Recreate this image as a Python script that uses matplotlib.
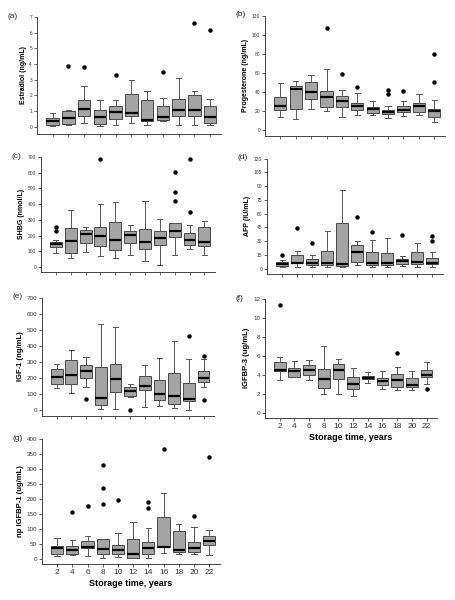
import matplotlib
matplotlib.use("Agg")
import matplotlib.pyplot as plt

plt.rcParams['font.family'] = ['Liberation Sans', 'DejaVu Sans']

years = [2, 4, 6, 8, 10, 12, 14, 16, 18, 20, 22]

# (a) Estradiol
estr_lo = [0.05, 0.1, 0.25, 0.05, 0.1, 0.25, 0.1, 0.4, 0.1, 0.1, 0.1]
estr_q1 = [0.15, 0.2, 0.7, 0.2, 0.5, 0.7, 0.35, 0.45, 0.7, 0.7, 0.25]
estr_med = [0.35, 0.55, 1.15, 0.6, 0.95, 0.9, 0.45, 0.65, 1.05, 1.1, 0.6]
estr_q3 = [0.55, 1.0, 1.7, 1.05, 1.3, 2.1, 1.7, 1.3, 1.75, 2.0, 1.3]
estr_hi = [0.9, 1.1, 2.6, 1.7, 1.7, 3.0, 2.3, 1.85, 3.1, 2.3, 1.75]
estr_out = [[], [3.9], [3.8], [], [3.3], [], [], [3.5], [], [6.6], [6.2]]

# (b) Progesterone
prog_lo = [14, 11.5, 22, 20, 14, 16, 15.7, 12.6, 15, 16.4, 8.7]
prog_q1 = [21, 22.7, 32.5, 25, 24.5, 21, 18, 16.8, 19, 19, 14]
prog_med = [25.5, 43, 40, 35, 31, 25.5, 22, 19, 21.7, 26, 20]
prog_q3 = [35, 47, 50.7, 41, 36.5, 29, 24.5, 21.7, 26, 28.7, 22.7]
prog_hi = [49.5, 52, 58, 64, 42.5, 39, 30.4, 25.5, 31, 38.5, 31.5]
prog_out = [[], [], [], [107], [59], [46], [], [42, 38], [41], [], [80, 51]]

# (c) SHBG
shbg_lo = [90, 57, 97, 68, 57, 74, 40, 10, 74, 116, 74]
shbg_q1 = [130, 90, 150, 135, 110, 152, 114, 137, 188, 137, 135]
shbg_med = [145, 168, 209, 196, 173, 205, 158, 183, 228, 175, 162]
shbg_q3 = [162, 251, 236, 257, 289, 226, 240, 230, 281, 217, 257]
shbg_hi = [172, 363, 257, 399, 411, 268, 422, 302, 281, 268, 295]
shbg_out = [[257, 230], [], [], [686], [], [], [], [], [601, 475, 420], [686, 348], []]

# (d) AFP
afp_lo = [1.8, 1.5, 1.8, 1.5, 1.5, 4.4, 1.5, 1.8, 2.9, 2.2, 1.5]
afp_q1 = [2.9, 6.2, 4.4, 4.4, 2.9, 7.3, 4.4, 4.4, 5.5, 5.5, 4.7]
afp_med = [5, 6.5, 5.8, 6.5, 5.5, 18, 6.5, 5.8, 8.7, 7.6, 6.2]
afp_q3 = [7.3, 15.3, 10.2, 19.6, 50, 26, 17.8, 16.7, 10.5, 18.2, 12]
afp_hi = [10, 19, 15.3, 41, 86, 30, 31, 33, 14.2, 28, 18.2]
afp_out = [[15.3], [44.7], [28], [], [], [56], [40], [], [36.4], [], [35.3, 30]]

# (e) IGF-1
igf1_lo = [140, 109, 144, 10, 6, 82, 21, 27, 14, 4, 144]
igf1_q1 = [165, 165, 202, 35, 111, 90, 128, 66, 41, 58, 175]
igf1_med = [206, 220, 241, 76, 195, 119, 150, 103, 86, 72, 202]
igf1_q3 = [257, 313, 282, 272, 288, 144, 210, 189, 233, 171, 241]
igf1_hi = [288, 375, 333, 535, 520, 165, 282, 323, 428, 319, 319]
igf1_out = [[], [], [68], [], [], [0], [], [], [], [459], [335, 66]]

# (f) IGFBP-3
bp3_lo = [3.4, 3.75, 3.4, 2.0, 2.0, 1.8, 3.1, 2.45, 2.4, 2.35, 3.05]
bp3_q1 = [4.35, 3.8, 4.0, 2.6, 3.6, 2.5, 3.5, 2.95, 2.7, 2.7, 3.8]
bp3_med = [4.55, 4.4, 4.55, 3.5, 4.45, 3.05, 3.7, 3.35, 3.45, 2.95, 4.0]
bp3_q3 = [5.3, 4.7, 5.0, 4.6, 5.1, 3.8, 3.9, 3.7, 4.1, 3.7, 4.55]
bp3_hi = [5.85, 5.5, 5.6, 7.0, 5.7, 4.7, 4.3, 4.4, 4.8, 4.4, 5.3]
bp3_out = [[11.4], [], [], [], [], [], [], [], [6.3], [], [2.45]]

# (g) np IGFBP-1
bp1_lo = [9, 11, 8, 2, 6, 2, 3, 20, 15, 17, 11]
bp1_q1 = [17, 15, 34, 17, 17, 3, 15, 39, 22, 22, 47]
bp1_med = [34, 30, 39, 32, 28, 17, 36, 39, 30, 34, 59]
bp1_q3 = [42, 42, 58, 64, 44, 66, 56, 138, 93, 54, 76]
bp1_hi = [69, 61, 76, 64, 84, 121, 101, 220, 115, 106, 97]
bp1_out = [[], [157], [177], [312, 237, 181], [195], [], [188, 169], [364], [], [142], [339]]

panels = [
    ("(a)", "Estradiol (ng/mL)", [estr_lo, estr_q1, estr_med, estr_q3, estr_hi, estr_out],
     [0.081, 0.777, 0.404, 0.196], range(0, 8), (-0.44, 7.05), False, 3.5, 5),
    ("(b)", "Progesterone (ng/mL)", [prog_lo, prog_q1, prog_med, prog_q3, prog_hi, prog_out],
     [0.581, 0.773, 0.395, 0.202], range(0, 121, 20), (-6, 121), False, 3.5, 5),
    ("(c)", "SHBG (nmol/L)", [shbg_lo, shbg_q1, shbg_med, shbg_q3, shbg_hi, shbg_out],
     [0.090, 0.547, 0.381, 0.193], range(0, 701, 100), (-30, 705), False, 3.5, 5),
    ("(d)", "AFP (IU/mL)", [afp_lo, afp_q1, afp_med, afp_q3, afp_hi, afp_out],
     [0.586, 0.543, 0.385, 0.194], range(0, 121, 15), (-6, 121), False, 3.5, 5),
    ("(e)", "IGF-1 (ng/mL)", [igf1_lo, igf1_q1, igf1_med, igf1_q3, igf1_hi, igf1_out],
     [0.092, 0.307, 0.377, 0.198], range(0, 701, 100), (-35, 705), False, 4.5, 5.5),
    ("(f)", "IGFBP-3 (ug/mL)", [bp3_lo, bp3_q1, bp3_med, bp3_q3, bp3_hi, bp3_out],
     [0.581, 0.303, 0.377, 0.200], range(0, 13, 2), (-0.6, 12.1), True, 4.5, 5.5),
    ("(g)", "np IGFBP-1 (ug/mL)", [bp1_lo, bp1_q1, bp1_med, bp1_q3, bp1_hi, bp1_out],
     [0.092, 0.060, 0.390, 0.210], range(0, 401, 50), (-18, 402), True, 4.5, 5.5),
]

fig = plt.figure(figsize=(4.56, 6.0), dpi=100)

for tag, ylab, cols, rect, yt, ylim, show_x, tfs, lfs in panels:
    ax = fig.add_axes(rect)
    stats = []
    for i in range(len(years)):
        stats.append(dict(whislo=cols[0][i], q1=cols[1][i], med=cols[2][i],
                          q3=cols[3][i], whishi=cols[4][i], fliers=cols[5][i]))
    ax.bxp(stats, positions=years, widths=1.6, patch_artist=True,
           boxprops=dict(facecolor='#a4a4a4', edgecolor='#333333', linewidth=0.6),
           medianprops=dict(color='black', linewidth=1.6),
           whiskerprops=dict(color='#555555', linewidth=0.7),
           capprops=dict(color='#555555', linewidth=0.7),
           capwidths=0.7,
           flierprops=dict(marker='o', markersize=2.2, markerfacecolor='black',
                           markeredgecolor='black'))
    ax.set_xlim(0, 23.4)
    ax.set_ylim(*ylim)
    ax.set_yticks(list(yt))
    ax.set_xticks(years)
    ax.spines['top'].set_visible(False)
    ax.spines['right'].set_visible(False)
    ax.spines['left'].set_bounds(ylim[0], max(yt))
    for s in ['left', 'bottom']:
        ax.spines[s].set_color('#444444')
        ax.spines[s].set_linewidth(0.7)
    ax.tick_params(length=2, width=0.6, color='#444444', labelsize=tfs,
                   labelcolor='#333333', pad=1.5)
    if show_x:
        ax.set_xticklabels([str(y) for y in years], fontsize=6)
        ax.set_xlabel("Storage time, years", fontsize=6.5, fontweight='bold',
                      labelpad=2)
    else:
        ax.set_xticklabels([])
    ax.set_ylabel(ylab, fontsize=lfs, fontweight='bold', labelpad=2)
    fig.text(rect[0] - 0.065, rect[1] + rect[3], tag, fontsize=6, va='center',
             ha='left', color='#222222')

fig.savefig("out.png", dpi=100)
